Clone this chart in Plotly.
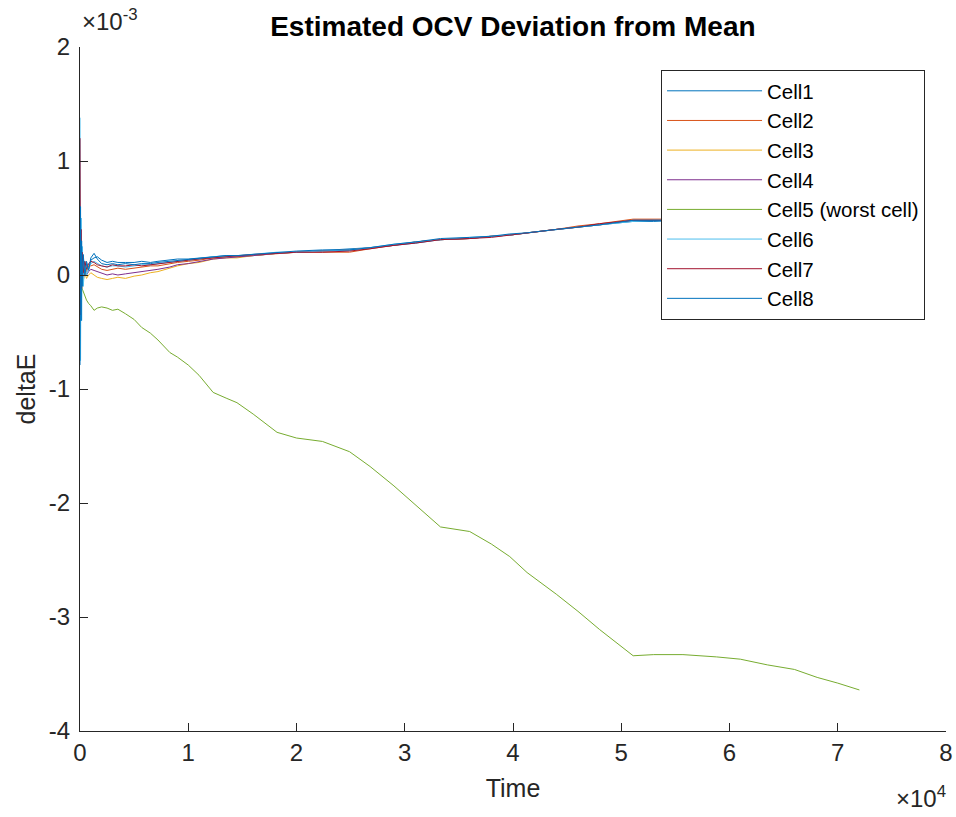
import numpy as np
import plotly.graph_objects as go

# Time in seconds
time_s = [0, 50, 100, 150, 200, 300, 450, 600, 800,
          1000, 1300, 1600, 2000, 2500, 3000, 3500, 4200, 5000, 5700, 6500, 7200, 8300, 9000,
          10000, 11000, 12300, 13500, 14500, 16000, 18200, 20000, 22400, 24900, 26800, 29000,
          31000, 33300, 36000, 38000, 39700, 41300, 44000, 46000, 48000, 51100, 53000, 55700,
          58800, 61000, 63500, 66000, 68100, 70000, 72000]

# deltaE values in units of 1e-3 V
cell1 = [-0.30, 0.40, -0.20, 0.25, -0.05, 0.15, 0.02, 0.12, 0.05,
         0.13, 0.15, 0.16, 0.13, 0.11, 0.12, 0.11, 0.11, 0.11, 0.12, 0.11, 0.12, 0.13, 0.14,
         0.14, 0.15, 0.16, 0.17, 0.17, 0.17, 0.19, 0.20, 0.21, 0.23, 0.24, 0.26,
         0.28, 0.31, 0.32, 0.34, 0.35, 0.37, 0.40, 0.42, 0.44, 0.47, 0.47, 0.48,
         0.48, 0.48, 0.49, 0.50, 0.50, 0.51, 0.52]
cell2 = [0.50, -0.30, 0.25, -0.10, 0.15, 0.00, 0.10, 0.03, 0.08,
         0.08, 0.09, 0.07, 0.05, 0.04, 0.05, 0.06, 0.05, 0.06, 0.07, 0.08, 0.08, 0.10, 0.11,
         0.12, 0.13, 0.15, 0.16, 0.16, 0.17, 0.19, 0.20, 0.20, 0.20, 0.23, 0.26,
         0.29, 0.31, 0.32, 0.34, 0.35, 0.37, 0.40, 0.43, 0.45, 0.49, 0.49, 0.49,
         0.48, 0.49, 0.49, 0.50, 0.51, 0.51, 0.52]
cell3 = [0.20, -0.20, 0.15, -0.15, 0.05, -0.05, 0.02, -0.03, 0.00,
         0.02, 0.00, -0.02, -0.03, -0.04, -0.03, -0.02, -0.03, -0.01, 0.00, 0.02, 0.03, 0.06, 0.08,
         0.10, 0.11, 0.14, 0.15, 0.15, 0.17, 0.19, 0.20, 0.21, 0.22, 0.24, 0.26,
         0.29, 0.31, 0.32, 0.34, 0.35, 0.37, 0.40, 0.42, 0.44, 0.48, 0.48, 0.48,
         0.48, 0.48, 0.49, 0.50, 0.50, 0.51, 0.52]
cell4 = [0.40, -0.25, 0.20, -0.08, 0.10, -0.02, 0.05, 0.00, 0.03,
         0.05, 0.04, 0.03, 0.01, 0.00, 0.01, 0.00, 0.01, 0.02, 0.03, 0.04, 0.05, 0.07, 0.09,
         0.10, 0.12, 0.14, 0.15, 0.16, 0.17, 0.19, 0.20, 0.21, 0.22, 0.24, 0.26,
         0.29, 0.31, 0.32, 0.34, 0.35, 0.37, 0.40, 0.42, 0.44, 0.48, 0.48, 0.48,
         0.48, 0.48, 0.49, 0.50, 0.50, 0.51, 0.52]
cell5 = [0.00, -0.05, -0.08, -0.10, -0.12, -0.15, -0.19, -0.22, -0.25,
         -0.27, -0.31, -0.29, -0.28, -0.29, -0.31, -0.30, -0.34, -0.39, -0.46, -0.51, -0.57, -0.68, -0.72,
         -0.79, -0.88, -1.03, -1.08, -1.12, -1.22, -1.38, -1.43, -1.46, -1.55, -1.68, -1.85,
         -2.02, -2.21, -2.25, -2.36, -2.47, -2.61, -2.80, -2.95, -3.11, -3.34, -3.33, -3.33,
         -3.35, -3.37, -3.42, -3.46, -3.53, -3.58, -3.64]
cell6 = [1.38, -0.75, 0.50, -0.40, 0.25, -0.10, 0.12, 0.00, 0.06,
         0.10, 0.12, 0.10, 0.08, 0.07, 0.08, 0.08, 0.07, 0.08, 0.09, 0.09, 0.10, 0.11, 0.12,
         0.13, 0.14, 0.16, 0.16, 0.17, 0.18, 0.20, 0.20, 0.21, 0.22, 0.24, 0.27,
         0.29, 0.31, 0.33, 0.34, 0.35, 0.37, 0.40, 0.42, 0.44, 0.47, 0.48, 0.48,
         0.48, 0.48, 0.49, 0.50, 0.50, 0.51, 0.52]
cell7 = [1.20, -0.35, 0.40, -0.12, 0.20, 0.02, 0.12, 0.05, 0.10,
         0.12, 0.11, 0.09, 0.08, 0.07, 0.09, 0.08, 0.08, 0.09, 0.08, 0.09, 0.10, 0.11, 0.12,
         0.13, 0.14, 0.15, 0.16, 0.17, 0.18, 0.19, 0.20, 0.20, 0.21, 0.23, 0.26,
         0.28, 0.31, 0.32, 0.33, 0.35, 0.37, 0.40, 0.42, 0.45, 0.48, 0.48, 0.48,
         0.49, 0.48, 0.49, 0.50, 0.51, 0.51, 0.52]
cell8 = [-0.79, 0.60, -0.40, 0.30, -0.10, 0.18, 0.00, 0.10, 0.04,
         0.15, 0.19, 0.14, 0.10, 0.09, 0.10, 0.09, 0.10, 0.09, 0.10, 0.10, 0.11, 0.12, 0.13,
         0.14, 0.15, 0.16, 0.17, 0.17, 0.18, 0.20, 0.21, 0.22, 0.22, 0.24, 0.27,
         0.29, 0.32, 0.33, 0.34, 0.36, 0.37, 0.40, 0.42, 0.44, 0.48, 0.48, 0.48,
         0.48, 0.48, 0.49, 0.50, 0.50, 0.51, 0.52]

names = ["Cell1", "Cell2", "Cell3", "Cell4", "Cell5 (worst cell)", "Cell6", "Cell7", "Cell8"]
colors = ["#0072BD", "#D95319", "#EDB120", "#7E2F8E", "#77AC30", "#4DBEEE", "#A2142F", "#0072BD"]
series = [cell1, cell2, cell3, cell4, cell5, cell6, cell7, cell8]

x_ticks = [0, 10000, 20000, 30000, 40000, 50000, 60000, 70000, 80000]
x_ticktext = ["0", "1", "2", "3", "4", "5", "6", "7", "8"]
y_ticks = [-0.004, -0.003, -0.002, -0.001, 0, 0.001, 0.002]
y_ticktext = ["-4", "-3", "-2", "-1", "0", "1", "2"]

FONT = "Liberation Sans, Arial, sans-serif"
AX = "#262626"
TICK_SIZE = 24
LABEL_SIZE = 25

fig = go.Figure()
for i, (nm, col, vals) in enumerate(zip(names, colors, series)):
    fig.add_trace(go.Scatter(
        x=time_s, y=np.array(vals) * 1e-3, mode="lines", name=nm,
        line=dict(color=col, width=1)))

fig.update_layout(
    width=956, height=817,
    margin=dict(l=80, r=10, t=47, b=86),
    paper_bgcolor="white", plot_bgcolor="white",
    font=dict(family=FONT, color=AX, size=TICK_SIZE),
    title=dict(text="<b>Estimated OCV Deviation from Mean</b>", x=0.5365, xanchor="center",
               y=0.968, yanchor="middle", font=dict(size=28, color="black", family=FONT)),
    showlegend=True,
    legend=dict(x=0.9758, xanchor="right", y=0.9664, yanchor="top",
                bgcolor="white", bordercolor=AX, borderwidth=1,
                font=dict(size=20.5, color="black", family=FONT),
                itemwidth=95),
)
fig.update_xaxes(range=[0, 80000], tickvals=x_ticks, ticktext=x_ticktext, automargin=False,
                 showgrid=False, zeroline=False, showline=True, linecolor=AX, linewidth=1,
                 ticks="inside", ticklen=8, tickcolor=AX, tickwidth=1,
                 tickfont=dict(size=TICK_SIZE, color=AX),
                 title=dict(text="Time", font=dict(size=LABEL_SIZE, color=AX), standoff=14))
fig.update_yaxes(range=[-0.004, 0.002], tickvals=y_ticks, ticktext=y_ticktext, automargin=False,
                 showgrid=False, zeroline=False, showline=True, linecolor=AX, linewidth=1,
                 ticks="inside", ticklen=8, tickcolor=AX, tickwidth=1, ticklabelstandoff=4,
                 tickfont=dict(size=TICK_SIZE, color=AX),
                 title=dict(text="deltaE", font=dict(size=LABEL_SIZE, color=AX), standoff=6))

fig.add_annotation(text="×10<sup>-3</sup>", xref="paper", yref="paper", x=0, y=1,
                   xanchor="left", yanchor="bottom", yshift=10, showarrow=False,
                   font=dict(size=TICK_SIZE, color=AX))
fig.add_annotation(text="×10<sup>4</sup>", xref="paper", yref="paper", x=1, y=0,
                   xanchor="right", yanchor="top", yshift=-49, xshift=2, showarrow=False,
                   font=dict(size=TICK_SIZE, color=AX))

fig.write_html("out.html", config={"displayModeBar": False},
               post_script="document.body.style.margin='0';")
